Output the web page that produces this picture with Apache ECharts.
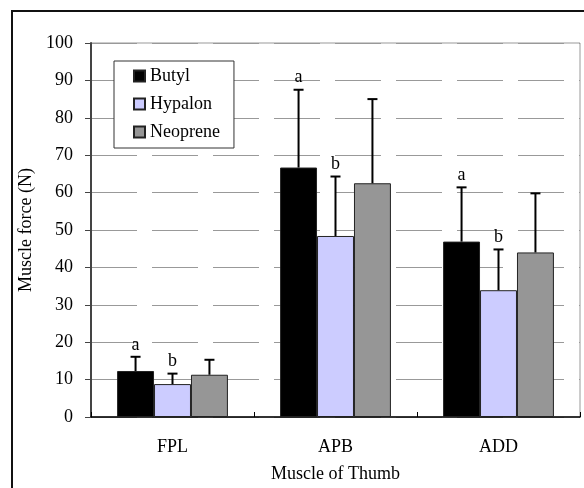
<!DOCTYPE html>
<html>
<head>
<meta charset="utf-8">
<script src="https://cdn.jsdelivr.net/npm/echarts@6/dist/echarts.min.js"></script>
<style>
html,body{margin:0;padding:0;background:#fff;}
#chart{width:584px;height:488px;}
</style>
</head>
<body>
<div id="chart"></div>
<script>
// ---- data ----
const categories = ['FPL', 'APB', 'ADD'];
const seriesNames = ['Butyl', 'Hypalon', 'Neoprene'];
const butylMean = [12.3, 66.7, 46.9];
const hypalonMean = [8.8, 48.4, 33.9];
const neopreneMean = [11.3, 62.5, 44.0];
const butylErr = [3.8, 20.8, 14.5];
const hypalonErr = [2.8, 15.9, 10.9];
const neopreneErr = [4.0, 22.5, 15.8];
const butylMarks = ['a', 'a', 'a'];
const hypalonMarks = ['b', 'b', 'b'];
const neopreneMarks = ['', '', ''];
const yTicks = [0, 10, 20, 30, 40, 50, 60, 70, 80, 90, 100];

const means = [butylMean, hypalonMean, neopreneMean];
const errs = [butylErr, hypalonErr, neopreneErr];
const marks = [butylMarks, hypalonMarks, neopreneMarks];
const colors = ['#000000', '#CCCCFF', '#969696'];
const FONT = 'Liberation Serif, serif';
const FS = 18;
const CAT_GAP = 0.32;

const chart = echarts.init(document.getElementById('chart'), null, {renderer: 'canvas'});

function errRender(si) {
  return function (params, api) {
    const xi = api.value(0), m = api.value(1), e = api.value(2);
    const base = api.coord([xi, m]);
    const top = api.coord([xi, m + e]);
    const catW = api.size([1, 0])[0];
    const barW = catW * (1 - CAT_GAP) / 3;
    const cx = base[0] + (si - 1) * barW;
    const children = [
      {type: 'line', shape: {x1: cx, y1: base[1], x2: cx, y2: top[1]},
       style: {stroke: '#000', lineWidth: 2}},
      {type: 'line', shape: {x1: cx - 5, y1: top[1], x2: cx + 5, y2: top[1]},
       style: {stroke: '#000', lineWidth: 2}}
    ];
    const mk = marks[si][params.dataIndex];
    if (mk) {
      children.push({type: 'text', x: cx, y: top[1] - 3,
        style: {text: mk, fill: '#000', fontSize: FS, fontFamily: FONT,
                textAlign: 'center', textVerticalAlign: 'bottom'}});
    }
    return {type: 'group', children: children};
  };
}

const series = [];
seriesNames.forEach(function (name, i) {
  series.push({
    name: name, type: 'bar', data: means[i],
    barGap: '0%', barCategoryGap: (CAT_GAP * 100) + '%',
    itemStyle: {color: colors[i], borderColor: '#222', borderWidth: 1},
    z: 2
  });
});
seriesNames.forEach(function (name, i) {
  series.push({
    name: 'err-' + name, type: 'custom',
    data: categories.map(function (c, k) { return [k, means[i][k], errs[i][k]]; }),
    renderItem: errRender(i), z: 5, silent: true
  });
});

chart.setOption({
  animation: false,
  backgroundColor: '#fff',
  textStyle: {fontFamily: FONT, fontSize: FS, color: '#000'},
  grid: {left: 91, right: 4, top: 43, bottom: 70, show: true,
         borderColor: '#999', borderWidth: 1, backgroundColor: 'transparent'},
  legend: {
    data: seriesNames, orient: 'vertical', left: 114, top: 61,
    icon: 'rect',
    itemWidth: 11, itemHeight: 11, itemGap: 10,
    padding: [6, 14, 7, 19],
    borderColor: '#333', borderWidth: 1, backgroundColor: '#fff',
    textStyle: {fontFamily: FONT, fontSize: FS, color: '#000', lineHeight: 18},
    selectedMode: false
  },
  xAxis: {
    type: 'category', data: categories,
    name: 'Muscle of Thumb', nameLocation: 'middle', nameGap: 48,
    nameTextStyle: {fontFamily: FONT, fontSize: FS, color: '#000'},
    axisLine: {lineStyle: {color: '#000', width: 1.5}},
    axisTick: {show: true, inside: true, length: 5, interval: 0, lineStyle: {color: '#000'}},
    axisLabel: {fontFamily: FONT, fontSize: FS, color: '#000', margin: 21},
    splitLine: {show: false}
  },
  yAxis: {
    type: 'value', min: yTicks[0], max: yTicks[yTicks.length - 1], interval: yTicks[1] - yTicks[0],
    name: 'Muscle force (N)', nameLocation: 'middle', nameGap: 52, nameRotate: 90,
    nameTextStyle: {fontFamily: FONT, fontSize: FS, color: '#000'},
    axisLine: {show: true, lineStyle: {color: '#444', width: 2}},
    axisTick: {show: true, inside: false, length: 6, lineStyle: {color: '#444'}},
    axisLabel: {fontFamily: FONT, fontSize: FS, color: '#000', margin: 18},
    splitLine: {show: true, lineStyle: {color: '#999', width: 1, type: [46, 15]}}
  },
  graphic: [{
    type: 'rect', silent: true, z: 100,
    shape: {x: 12, y: 11, width: 620, height: 520},
    style: {fill: 'none', stroke: '#111', lineWidth: 2}
  }],
  series: series
});
</script>
</body>
</html>
